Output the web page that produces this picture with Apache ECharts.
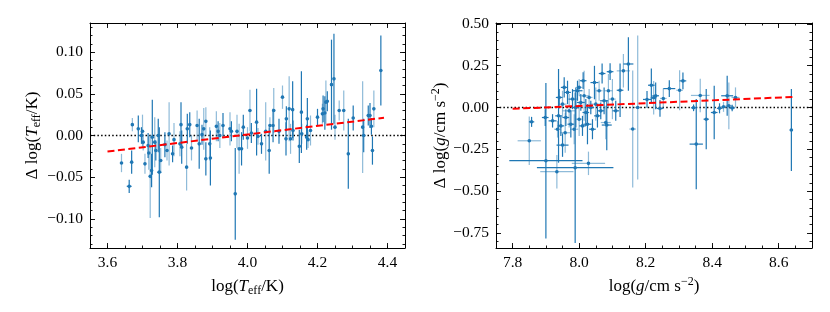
<!DOCTYPE html>
<html><head><meta charset="utf-8">
<script src="https://cdn.jsdelivr.net/npm/echarts@6/dist/echarts.min.js"></script>
<style>html,body{margin:0;padding:0;background:#fff}#c{width:830px;height:312px}</style>
</head><body><div id="c"></div>
<script>
// ---------- Left panel: Teff ----------
const teffX   = [3.640,3.662,3.669,3.671,3.688,3.697,3.702,3.707,3.716,3.718,3.728,3.722,3.726,3.738,3.748,3.752,3.764,3.770,3.776,3.786,3.807,3.810,3.812,3.826,3.828,3.835,3.856,3.862,3.875,3.881,3.881,3.892,3.894,3.911,3.916,3.921,3.950,3.954,3.965,3.976,3.983,3.988,4.007,4.011,4.026,4.030,4.040,4.052,4.062,4.064,4.073,4.075,4.100,4.110,4.111,4.119,4.123,4.129,4.130,4.148,4.154,4.155,4.169,4.171,4.173,4.200,4.214,4.216,4.221,4.224,4.228,4.240,4.247,4.262,4.275,4.288,4.302,4.329,4.332,4.345,4.350,4.354,4.357,4.361,4.381,3.700,3.735,3.745,3.790,3.840,3.870,3.930,3.970,4.000,4.090,4.180,4.250];
const teffDY  = [-0.033,-0.061,-0.032,0.013,0.008,0.000,-0.008,-0.034,-0.012,-0.021,-0.002,-0.049,-0.042,-0.018,-0.044,-0.030,-0.011,-0.018,0.002,-0.022,-0.010,0.013,-0.014,-0.038,0.008,0.013,0.012,-0.010,0.008,0.017,-0.028,-0.010,-0.027,0.011,0.005,0.000,0.008,0.005,-0.070,-0.016,-0.016,0.010,0.030,0.003,0.016,-0.001,-0.010,0.005,-0.018,0.012,0.012,0.030,0.046,-0.004,0.020,0.032,-0.004,0.031,0.006,-0.013,0.028,0.002,-0.002,0.020,-0.005,0.022,0.026,0.032,0.027,0.040,0.041,0.061,0.068,0.030,0.030,-0.022,0.021,0.010,0.000,0.024,0.024,0.011,-0.018,0.032,0.078,0.005,-0.008,0.000,-0.005,-0.015,0.001,0.012,0.005,-0.003,0.005,0.006,0.010];
const teffYErr= [0.011,0.008,0.014,0.008,0.016,0.010,0.010,0.012,0.015,0.020,0.045,0.050,0.020,0.012,0.054,0.015,0.015,0.012,0.038,0.010,0.015,0.027,0.020,0.028,0.018,0.015,0.018,0.030,0.025,0.017,0.020,0.020,0.033,0.018,0.012,0.015,0.020,0.012,0.055,0.030,0.020,0.015,0.025,0.012,0.040,0.010,0.012,0.035,0.028,0.010,0.020,0.027,0.014,0.020,0.015,0.039,0.018,0.034,0.012,0.020,0.049,0.012,0.015,0.025,0.010,0.010,0.012,0.016,0.020,0.026,0.012,0.054,0.054,0.012,0.024,0.042,0.015,0.055,0.020,0.012,0.015,0.010,0.017,0.022,0.042,0.020,0.030,0.020,0.020,0.015,0.012,0.015,0.020,0.013,0.015,0.018,0.015];
const teffXErr= [0,0.007,0,0,0,0,0,0,0,0,0,0,0.004,0,0.006,0,0,0,0,0,0,0,0,0,0,0,0,0,0,0,0,0,0,0,0,0,0,0,0,0,0,0,0,0,0,0,0,0,0,0,0,0,0,0,0,0,0,0,0,0,0,0,0,0,0,0,0,0,0,0,0,0,0,0,0,0,0,0,0,0,0,0,0,0,0,0,0,0,0,0,0,0,0,0,0,0,0];
const teffLight=[1,0,0,1,0,0,1,1,0,1,0,1,0,0,0,1,0,1,1,0,1,0,0,1,0,0,1,0,1,1,0,1,0,1,0,1,1,0,0,1,0,0,1,0,0,1,0,1,0,1,0,1,1,0,0,1,1,0,0,0,0,1,0,0,1,0,1,0,0,1,0,0,0,1,1,0,0,1,0,0,0,0,0,1,0,1,1,0,1,1,0,0,1,1,0,1,1];
const teffFitX = [3.60, 4.39];
const teffFitY = [-0.0193, 0.0213];
const teffXRange = [3.55, 4.45];
const teffYRange = [-0.135, 0.135];
const teffXTicks = [3.6, 3.8, 4.0, 4.2, 4.4];
const teffXLabels = ['3.6','3.8','4.0','4.2','4.4'];
const teffYTicks = [-0.10, -0.05, 0.00, 0.05, 0.10];
const teffYLabels = ['\u22120.10','\u22120.05','0.00','0.05','0.10'];

// ---------- Right panel: log g ----------
const gravX   = [7.898,7.850,7.857,7.900,7.933,7.950,7.958,7.988,8.028,8.083,8.161,8.176,8.046,8.069,8.088,8.093,8.123,8.133,8.148,8.204,8.217,8.224,8.230,8.243,8.253,8.271,8.302,8.312,8.344,8.352,8.364,8.382,8.406,8.422,8.434,8.445,8.450,8.460,8.470,8.638,7.938,7.945,7.950,7.960,7.965,7.970,7.975,7.980,7.985,7.990,7.995,8.000,8.005,8.010,8.015,8.020,8.025,8.030,8.035,8.040,8.050,8.055,8.060,8.065,8.075,8.080,8.100,8.110,7.920,7.935,7.940,8.000,7.955,8.012];
const gravDY  = [-0.060,-0.199,-0.086,-0.318,-0.384,-0.225,-0.151,-0.360,-0.334,-0.105,-0.129,0.000,0.149,0.203,0.100,0.214,0.103,0.219,0.260,0.048,0.133,0.058,0.070,-0.006,0.054,0.113,0.103,0.159,-0.002,-0.219,0.072,-0.070,-0.030,-0.005,0.004,0.070,0.010,-0.003,0.060,-0.135,-0.050,-0.110,0.020,-0.060,0.090,-0.020,-0.100,0.050,-0.130,0.000,0.100,-0.070,0.030,-0.110,0.070,-0.030,-0.100,0.060,0.000,-0.130,0.020,-0.050,0.100,-0.020,0.040,-0.090,0.050,-0.020,-0.080,-0.130,0.060,0.120,0.120,0.160];
const gravXErr= [0.010,0.035,0.008,0.110,0.050,0.018,0.015,0.115,0.050,0.015,0.010,0.008,0.012,0.010,0.012,0.010,0.010,0.020,0.015,0.012,0.010,0.010,0.010,0.010,0.010,0.018,0.010,0.010,0.008,0.020,0.028,0.008,0.010,0.008,0.010,0.018,0.010,0.008,0.012,0.005,0.010,0.010,0.012,0.010,0.010,0.020,0.010,0.012,0.012,0.010,0.015,0.010,0.012,0.010,0.015,0.010,0.012,0.010,0.010,0.010,0.015,0.010,0.010,0.010,0.012,0.015,0.010,0.010,0.012,0.010,0.010,0.010,0.010,0.010];
const gravYErr= [0.050,0.145,0.030,0.465,0.100,0.070,0.120,0.450,0.070,0.150,0.350,0.430,0.100,0.060,0.100,0.050,0.160,0.100,0.160,0.050,0.100,0.100,0.080,0.050,0.060,0.050,0.120,0.050,0.020,0.270,0.100,0.180,0.160,0.030,0.030,0.120,0.140,0.020,0.060,0.245,0.280,0.060,0.080,0.050,0.070,0.100,0.080,0.060,0.090,0.120,0.060,0.100,0.050,0.060,0.150,0.080,0.120,0.050,0.040,0.060,0.100,0.070,0.060,0.050,0.080,0.100,0.120,0.060,0.040,0.050,0.050,0.050,0.060,0.050];
const gravLight=[0,1,0,0,1,0,1,0,1,0,1,1,0,0,1,0,0,1,0,0,0,1,0,0,1,0,1,0,0,0,1,0,0,0,1,0,1,0,1,0,0,0,1,0,0,1,0,0,1,0,0,1,0,0,1,0,0,1,0,0,1,0,1,0,0,1,1,0,0,1,0,1,0,0];
const gravFitX = [7.80, 8.643];
const gravFitY = [-0.008, 0.063];
const gravXRange = [7.75, 8.70];
const gravYRange = [-0.84, 0.505];
const gravXTicks = [7.8, 8.0, 8.2, 8.4, 8.6];
const gravXLabels = ['7.8','8.0','8.2','8.4','8.6'];
const gravYTicks = [-0.75, -0.50, -0.25, 0.00, 0.25, 0.50];
const gravYLabels = ['\u22120.75','\u22120.50','\u22120.25','0.00','0.25','0.50'];

// ---------- styling ----------
const FONT = 'Liberation Serif';
const DARK = '#1f77b4';
const LIGHT = 'rgba(31,119,180,0.5)';
const richName = {
  n: {fontFamily: FONT, fontSize: 17, color: '#000'},
  i: {fontFamily: FONT, fontSize: 17, color: '#000', fontStyle: 'italic'},
  s: {fontFamily: FONT, fontSize: 12, color: '#000', padding: [9, 0, 0, 0]},
  p: {fontFamily: FONT, fontSize: 12, color: '#000', padding: [0, 0, 9, 0]}
};
function minorList(range, step) {
  const out = [];
  const start = Math.ceil(range[0] / step - 1e-9);
  const end = Math.floor(range[1] / step + 1e-9);
  for (let k = start; k <= end; k++) out.push(+(k * step).toFixed(6));
  return out;
}
function fmt(ticks, labels) {
  return v => { const i = ticks.findIndex(t => Math.abs(t - v) < 1e-7); return i >= 0 ? labels[i] : ''; };
}
function axes(grid, range, ticks, labels, minorStep, name, nameGap, sides) {
  const minor = minorList(range, minorStep);
  const base = {
    type: 'value', gridIndex: grid, min: range[0], max: range[1], scale: true,
    splitLine: {show: false}, axisPointer: {show: false}
  };
  const mk = (side, isMain, isMinor) => Object.assign({}, base, {
    position: side,
    axisLine: {show: !isMinor, onZero: false, lineStyle: {color: '#000', width: 1}},
    axisTick: {show: true, inside: true, length: isMinor ? 2.5 : 5,
      customValues: isMinor ? minor : ticks, lineStyle: {color: '#000', width: 0.9}},
    axisLabel: (isMain && !isMinor) ? {show: true, customValues: ticks, formatter: fmt(ticks, labels),
      fontFamily: FONT, fontSize: 15.5, color: '#000', margin: 7} : {show: false},
    name: (isMain && !isMinor) ? name : '',
    nameLocation: 'middle', nameGap: nameGap,
    nameTextStyle: {rich: richName}
  });
  return [mk(sides[0], true, false), mk(sides[0], true, true), mk(sides[1], false, false), mk(sides[1], false, true)];
}
function errRender(params, api) {
  const x = api.value(0), y = api.value(1), xe = api.value(2), ye = api.value(3), lt = api.value(4);
  const col = lt ? LIGHT : DARK;
  const ch = [];
  const a = api.coord([x, y - ye]), b = api.coord([x, y + ye]);
  ch.push({type: 'line', shape: {x1: a[0], y1: a[1], x2: b[0], y2: b[1]}, style: {stroke: col, lineWidth: 1.2}});
  if (xe > 0) {
    const c = api.coord([x - xe, y]), d = api.coord([x + xe, y]);
    ch.push({type: 'line', shape: {x1: c[0], y1: c[1], x2: d[0], y2: d[1]}, style: {stroke: col, lineWidth: 1.2}});
  }
  const p = api.coord([x, y]);
  ch.push({type: 'circle', shape: {cx: p[0], cy: p[1], r: 1.8}, style: {fill: DARK}});
  return {type: 'group', children: ch};
}
function rows(X, Y, XE, YE, L, want) {
  const out = [];
  for (let i = 0; i < X.length; i++) if (L[i] === want) out.push([X[i], Y[i], XE[i], YE[i], L[i]]);
  return out;
}
function panelSeries(ax, X, Y, XE, YE, L, fitX, fitY, xr) {
  return [
    {type: 'line', xAxisIndex: ax, yAxisIndex: ax, data: [[xr[0], 0], [xr[1], 0]], symbol: 'none',
      lineStyle: {color: '#000', width: 1.5, type: [1.5, 2.2]}, z: 1, silent: true, animation: false},
    {type: 'custom', xAxisIndex: ax, yAxisIndex: ax, data: rows(X, Y, XE, YE, L, 1), renderItem: errRender,
      clip: true, z: 2, animation: false, encode: {x: 0, y: 1}},
    {type: 'custom', xAxisIndex: ax, yAxisIndex: ax, data: rows(X, Y, XE, YE, L, 0), renderItem: errRender,
      clip: true, z: 3, animation: false, encode: {x: 0, y: 1}},
    {type: 'line', xAxisIndex: ax, yAxisIndex: ax, data: fitX.map((v, i) => [v, fitY[i]]), symbol: 'none',
      lineStyle: {color: '#ff0000', width: 2, type: [7, 3.5]}, z: 5, silent: true, animation: false}
  ];
}

const chart = echarts.init(document.getElementById('c'), null, {renderer: 'canvas'});
chart.setOption({
  backgroundColor: '#fff',
  animation: false,
  grid: [
    {left: 90, top: 23, width: 315, height: 225},
    {left: 496, top: 23, width: 316, height: 225}
  ],
  xAxis: [
    ...axes(0, teffXRange, teffXTicks, teffXLabels, 0.05, '{n|log(}{i|T}{s|eff}{n|/K)}', 28, ['bottom', 'top']),
    ...axes(1, gravXRange, gravXTicks, gravXLabels, 0.05, '{n|log(}{i|g}{n|/cm s}{p|\u22122}{n|)}', 28, ['bottom', 'top'])
  ],
  yAxis: [
    ...axes(0, teffYRange, teffYTicks, teffYLabels, 0.01, '{n|\u0394 log(}{i|T}{s|eff}{n|/K)}', 44, ['left', 'right']),
    ...axes(1, gravYRange, gravYTicks, gravYLabels, 0.05, '{n|\u0394 log(}{i|g}{n|/cm s}{p|\u22122}{n|)}', 44, ['left', 'right'])
  ],
  series: [
    ...panelSeries(0, teffX, teffDY, teffXErr, teffYErr, teffLight, teffFitX, teffFitY, teffXRange),
    ...panelSeries(4, gravX, gravDY, gravXErr, gravYErr, gravLight, gravFitX, gravFitY, gravXRange)
  ]
});
</script>
</body></html>
